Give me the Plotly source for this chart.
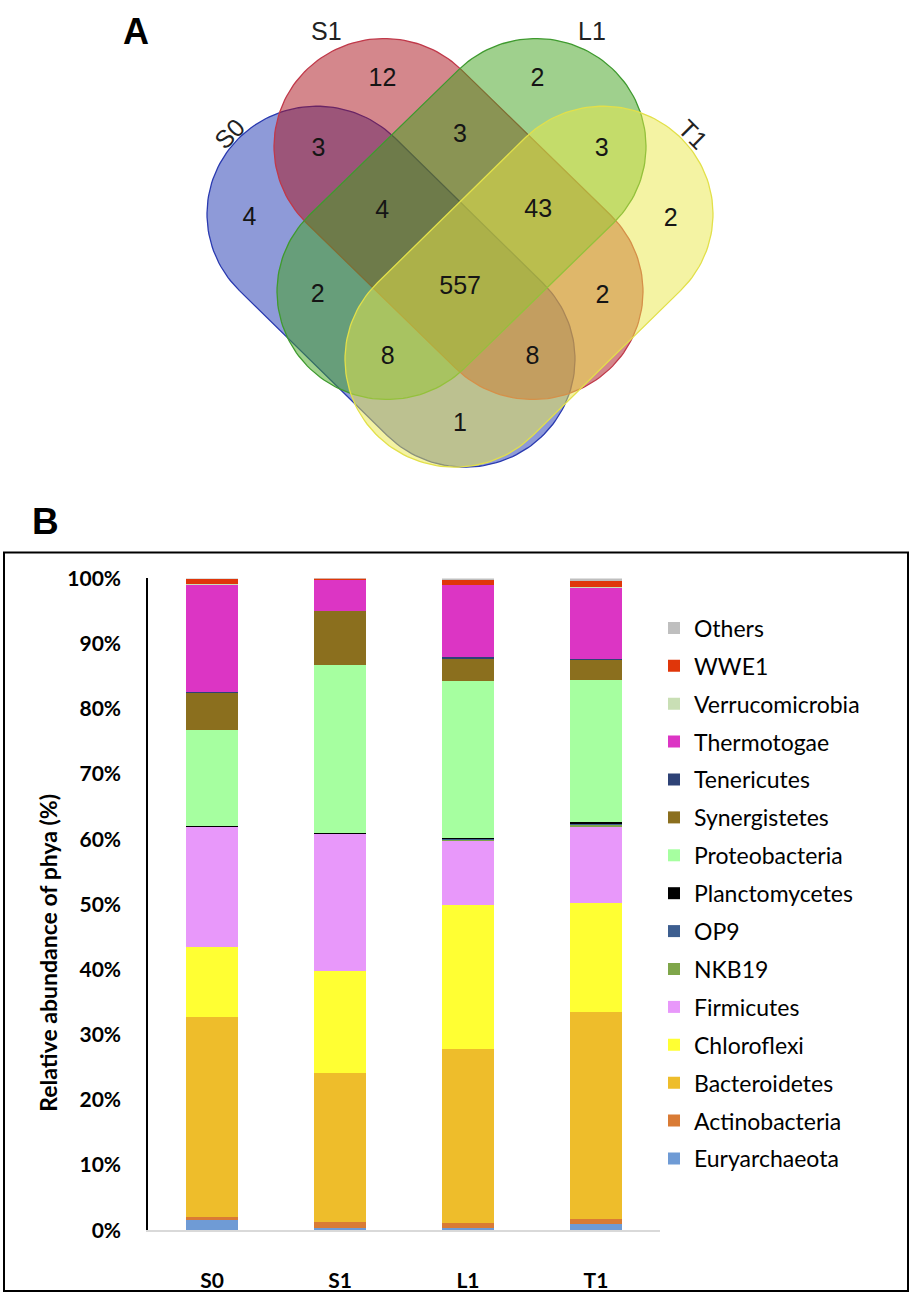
import numpy as np
import plotly.graph_objects as go

# ---------------- DATA ----------------
# Panel A: Venn diagram (shared OTUs)
venn_sets = ["S0", "S1", "L1", "T1"]
venn_regions = ["S0", "S1", "L1", "T1",
                "S0&S1", "S0&L1", "S0&T1", "S1&L1", "S1&T1", "L1&T1",
                "S0&S1&L1", "S0&S1&T1", "S0&L1&T1", "S1&L1&T1",
                "S0&S1&L1&T1"]
venn_counts = [4, 12, 2, 2,
               3, 2, 1, 3, 2, 3,
               4, 8, 8, 43,
               557]

# Panel B: relative abundance of phyla (%), stacked bottom -> top
samples = ["S0", "S1", "L1", "T1"]
phyla = ["Euryarchaeota", "Actinobacteria", "Bacteroidetes", "Chloroflexi",
         "Firmicutes", "NKB19", "OP9", "Planctomycetes", "Proteobacteria",
         "Synergistetes", "Tenericutes", "Thermotogae", "Verrucomicrobia",
         "WWE1", "Others"]
Euryarchaeota   = [1.60, 0.35, 0.35, 0.90]
Actinobacteria  = [0.50, 0.85, 0.80, 0.80]
Bacteroidetes   = [30.60, 22.90, 26.65, 31.80]
Chloroflexi     = [10.75, 15.65, 22.05, 16.75]
Firmicutes      = [18.40, 21.00, 9.85, 11.60]
NKB19           = [0.00, 0.10, 0.20, 0.40]
OP9             = [0.00, 0.00, 0.10, 0.10]
Planctomycetes  = [0.15, 0.10, 0.15, 0.25]
Proteobacteria  = [14.80, 25.80, 24.20, 21.80]
Synergistetes   = [5.70, 8.25, 3.30, 3.15]
Tenericutes     = [0.05, 0.05, 0.35, 0.10]
Thermotogae     = [16.50, 4.70, 11.00, 10.90]
Verrucomicrobia = [0.05, 0.05, 0.05, 0.15]
WWE1            = [0.75, 0.05, 0.70, 0.85]
Others          = [0.15, 0.15, 0.25, 0.45]
phyla_values = [Euryarchaeota, Actinobacteria, Bacteroidetes, Chloroflexi,
                Firmicutes, NKB19, OP9, Planctomycetes, Proteobacteria,
                Synergistetes, Tenericutes, Thermotogae, Verrucomicrobia,
                WWE1, Others]
y_ticks = [0, 10, 20, 30, 40, 50, 60, 70, 80, 90, 100]

# ---------------- STYLE / LAYOUT ----------------
W, H = 913, 1307
phyla_colors = {
    "Euryarchaeota": "#6F9BD5", "Actinobacteria": "#D97B35",
    "Bacteroidetes": "#EEBD2B", "Chloroflexi": "#FFFF33",
    "Firmicutes": "#E898FA", "NKB19": "#7FA64A", "OP9": "#3D5E8F",
    "Planctomycetes": "#000000", "Proteobacteria": "#A6FFA0",
    "Synergistetes": "#8B6F1E", "Tenericutes": "#2E4276",
    "Thermotogae": "#DC35C4", "Verrucomicrobia": "#C9DFB5",
    "WWE1": "#E0360A", "Others": "#BFBFBF"}

venn_fill = {"S0": "rgba(29,53,177,0.5)", "S1": "rgba(169,15,25,0.5)",
             "L1": "rgba(63,161,27,0.5)", "T1": "rgba(233,231,71,0.5)"}
venn_line = {"S0": "#2a3ab0", "S1": "#c0394a", "L1": "#3f9a2f", "T1": "#e2e04a"}

AX = 460.0   # symmetry axis (px)
R = 110.0    # capsule radius (px)
caps = {  # capsule end-centres relative to symmetry axis (px, y down)
    "S0": ((-143, 204), (5, 352)),
    "S1": ((-76, 135), (73, 283)),
    "L1": ((76, 135), (-73, 283)),
    "T1": ((143, 204), (-5, 352)),
}
caps = {k: ((AX + a[0], a[1]), (AX + b[0], b[1])) for k, (a, b) in caps.items()}
set_label_pos = {"S0": (229, 122, -45), "S1": (326, 17, 0),
                 "L1": (592, 17, 0), "T1": (693, 122, 45)}
VENN_H = 490

fig = go.Figure()

# ---- Venn capsules
def capsule(c1, c2, r, n=80):
    c1 = np.array(c1, float); c2 = np.array(c2, float)
    u = c2 - c1
    th = np.arctan2(u[1], u[0])
    a2 = np.linspace(th - np.pi / 2, th + np.pi / 2, n)
    a1 = np.linspace(th + np.pi / 2, th + 3 * np.pi / 2, n)
    px = np.concatenate([c2[0] + r * np.cos(a2), c1[0] + r * np.cos(a1), [c2[0] + r * np.cos(a2[0])]])
    py = np.concatenate([c2[1] + r * np.sin(a2), c1[1] + r * np.sin(a1), [c2[1] + r * np.sin(a2[0])]])
    return px, py

for s in venn_sets:
    px, py = capsule(*caps[s], R)
    fig.add_trace(go.Scatter(x=px, y=py, mode="lines", fill="toself",
                             fillcolor=venn_fill[s],
                             line=dict(color=venn_line[s], width=1.3),
                             xaxis="x2", yaxis="y2", showlegend=False,
                             hoverinfo="skip"))

# ---- region label positions computed from geometry
gx, gy = np.meshgrid(np.arange(0, W, 1.5), np.arange(0, VENN_H, 1.5))
def seg_dist(c1, c2):
    c1 = np.array(c1, float); d = np.array(c2, float) - c1
    px, py = gx - c1[0], gy - c1[1]
    t = np.clip((px * d[0] + py * d[1]) / (d @ d), 0, 1)
    return np.hypot(px - t * d[0], py - t * d[1])
dist = {s: seg_dist(*caps[s]) for s in venn_sets}
inside = {s: dist[s] < R for s in venn_sets}
clear = np.min([np.abs(dist[s] - R) for s in venn_sets], axis=0)
lx, ly = [], []
for reg in venn_regions:
    mem = reg.split("&")
    mask = np.ones_like(gx, bool)
    for s in venn_sets:
        mask &= inside[s] if s in mem else ~inside[s]
    c = clear[mask]
    sel = c >= 0.8 * c.max()
    lx.append(gx[mask][sel].mean()); ly.append(gy[mask][sel].mean())

fig.add_trace(go.Scatter(x=lx, y=ly, mode="text", text=[str(v) for v in venn_counts],
                         textfont=dict(family="Liberation Sans", size=25, color="#151515"),
                         xaxis="x2", yaxis="y2", showlegend=False, hoverinfo="skip"))

annotations = []
for s in venn_sets:
    x, y, ang = set_label_pos[s]
    annotations.append(dict(x=x, y=y, xref="x2", yref="y2", text=s, showarrow=False,
                            xanchor="center", yanchor="middle",
                            textangle=ang, font=dict(family="Liberation Sans", size=25, color="#222")))

# ---- Stacked bars
n_ph = len(phyla)
for i, (name, vals) in enumerate(zip(phyla, phyla_values)):
    fig.add_trace(go.Bar(x=samples, y=vals, name=name, legendgroup=name,
                         legendrank=100 + n_ph - i,
                         marker=dict(color=phyla_colors[name], line=dict(width=0)),
                         xaxis="x", yaxis="y"))

# panel letters and y title
annotations += [
    dict(x=136 / W, y=1 - 18 / H, xref="paper", yref="paper", text="<b>A</b>", showarrow=False,
         xanchor="center", yanchor="middle",
         font=dict(family="Liberation Sans", size=36, color="black")),
    dict(x=45 / W, y=1 - 517 / H, xref="paper", yref="paper", text="<b>B</b>", showarrow=False,
         xanchor="center", yanchor="middle",
         font=dict(family="Liberation Sans", size=37, color="black")),
    dict(x=48 / W, y=1 - 957 / H, xref="paper", yref="paper",
         text="<b>Relative abundance of phya (%)</b>", showarrow=False, textangle=-90,
         xanchor="center", yanchor="middle",
         font=dict(family="Lato", size=23, color="black")),
]

shapes = [dict(type="rect", xref="paper", yref="paper",
               x0=4 / W, x1=908 / W, y0=1 - 1302 / H, y1=1 - 549 / H,
               line=dict(color="black", width=2), fillcolor="rgba(0,0,0,0)")]

fig.update_layout(
    width=W, height=H, margin=dict(l=0, r=0, t=0, b=0),
    paper_bgcolor="white", plot_bgcolor="white",
    barmode="stack", bargap=0.6,
    showlegend=True,
    legend=dict(traceorder="grouped", tracegroupgap=5,
                x=654 / W, y=1 - 604 / H, xanchor="left", yanchor="top",
                font=dict(family="Lato", size=23, color="black"),
                bgcolor="rgba(0,0,0,0)"),
    xaxis=dict(domain=[148 / W, 660 / W], showline=True, linecolor="#d9d9d9", linewidth=1.5,
               showgrid=False, ticks="", ticklabelstandoff=31,
               tickfont=dict(family="Lato", size=21, color="black", weight="bold"),
               fixedrange=True),
    yaxis=dict(domain=[1 - 1240 / H, 1 - 575.5 / H], range=[0, 100],
               tickvals=y_ticks, ticktext=[f"{v}%" for v in y_ticks],
               showline=True, linecolor="black", linewidth=1.5, showgrid=False,
               ticks="", ticklabelstandoff=21, zeroline=False,
               tickfont=dict(family="Lato", size=21, color="black", weight="bold")),
    xaxis2=dict(domain=[0, 1], range=[0, W], visible=False, anchor="y2"),
    yaxis2=dict(domain=[1 - VENN_H / H, 1], range=[VENN_H, 0], visible=False, anchor="x2"),
    annotations=annotations, shapes=shapes,
)

fig.write_html("out.html", config={"displayModeBar": False},
               post_script="document.body.style.margin='0';document.body.style.overflow='hidden';")
